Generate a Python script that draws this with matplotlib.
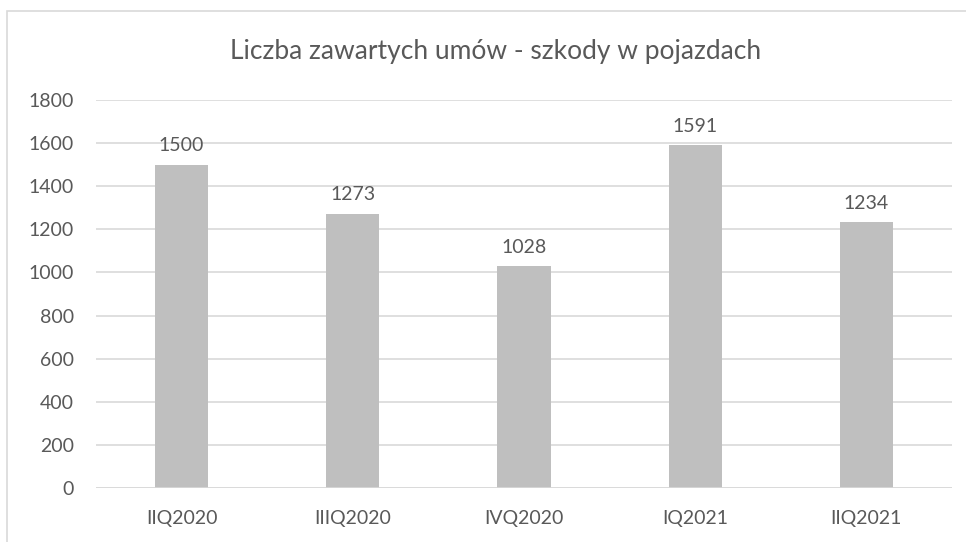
import matplotlib
matplotlib.use("Agg")
import matplotlib.pyplot as plt
from matplotlib.patches import Rectangle

plt.rcParams.update({
    "font.family": ["Lato", "DejaVu Sans"],
    "font.size": 14,
})

# Data
quarters = ["IIQ2020", "IIIQ2020", "IVQ2020", "IQ2021", "IIQ2021"]
contracts = [1500, 1273, 1028, 1591, 1234]
y_ticks = [0, 200, 400, 600, 800, 1000, 1200, 1400, 1600, 1800]

TXT = "#595959"
GRID = "#d9d9d9"
BAR = "#bfbfbf"

fig = plt.figure(figsize=(9.66, 5.42), dpi=100)
ax = fig.add_axes([96 / 966, 1 - 488 / 542, (952 - 96) / 966, (488 - 100) / 542])

x = range(len(quarters))
bars = ax.bar(x, contracts, width=0.31, color=BAR, zorder=3)
for bar, v in zip(bars, contracts):
    ax.annotate(f"{v}", (bar.get_x() + bar.get_width() / 2, v),
                xytext=(0, 19), textcoords="offset pixels",
                ha="center", va="center", fontsize=14, color=TXT)

ax.set_xlim(-0.5, len(quarters) - 0.5)
ax.set_ylim(0, 1800)
ax.set_yticks(y_ticks)
ax.set_xticks(list(x))
ax.set_xticklabels(quarters)
ax.tick_params(length=0, colors=TXT, labelsize=14)
ax.tick_params(axis="y", pad=16)
ax.tick_params(axis="x", pad=16)
ax.grid(axis="y", color=GRID, linewidth=1.2, zorder=0)
for s in ax.spines.values():
    s.set_visible(False)
ax.axhline(0, color=GRID, linewidth=1.2, zorder=4)

fig.text(496 / 966, 1 - 52 / 542, "Liczba zawartych umów - szkody w pojazdach",
         ha="center", va="center", fontsize=19, color=TXT)

# chart border (cropped at right and bottom)
fig.patches.append(Rectangle((7 / 966, -0.05), 1.1, 1 - 11 / 542 + 0.05,
                             transform=fig.transFigure, fill=False,
                             edgecolor=GRID, linewidth=1.2))

fig.savefig("out.png", dpi=100, facecolor="white")
